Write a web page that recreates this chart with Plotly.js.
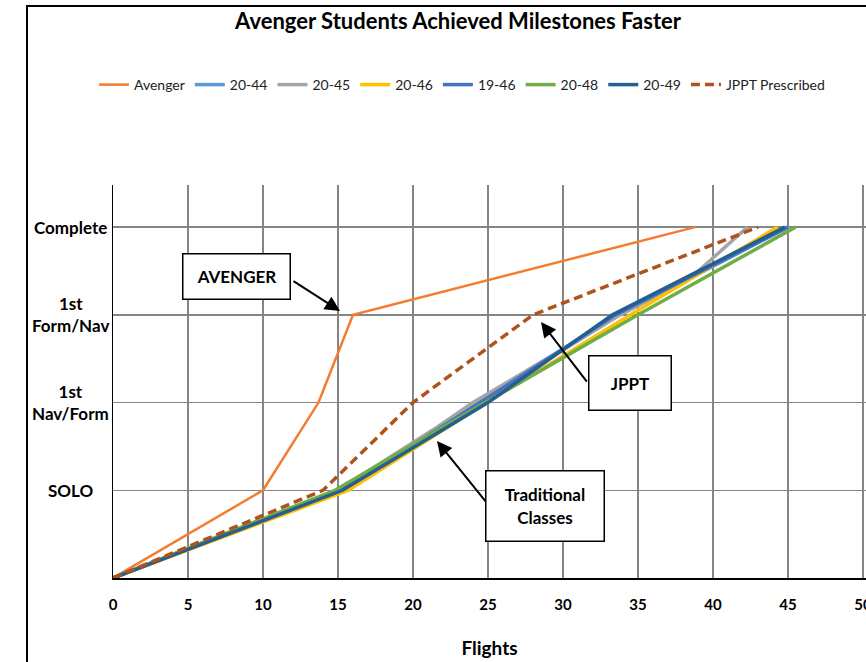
<!DOCTYPE html>
<html>
<head>
<meta charset="utf-8">
<script src="https://cdn.plot.ly/plotly-3.0.1.min.js"></script>
<style>
  html, body { margin: 0; padding: 0; background: #fff; }
  #wrap { position: relative; width: 866px; height: 662px; overflow: hidden; }
  #chart { position: absolute; left: 0; top: 0; width: 866px; height: 662px; }
  #frame { position: absolute; left: 26px; top: 5px; width: 860px; height: 680px;
           border-left: 2px solid #000; border-top: 2px solid #000; pointer-events: none; }
</style>
</head>
<body>
<div id="wrap">
  <div id="chart"></div>
  <div id="frame"></div>
</div>
<script>
// ---- data (flights, milestone index) ----
const milestoneVals = [1, 2, 3, 4];
const milestoneLabels = ['SOLO', '1st<br>Nav/Form', '1st<br>Form/Nav', 'Complete'];
const xTicks = [0, 5, 10, 15, 20, 25, 30, 35, 40, 45, 50];

const seriesNames = ['Avenger', '20-44', '20-45', '20-46', '19-46', '20-48', '20-49', 'JPPT Prescribed'];

const avengerX = [0, 10, 13.7, 16, 38.8];
const avengerY = [0, 1, 2, 3, 4];

const c2044X = [0, 15.1, 24.3, 33.8, 45.0];
const c2044Y = [0, 1, 2, 3, 4];

const c2045X = [0, 15.0, 21.6, 24.0, 33.8, 38.5, 42.3];
const c2045Y = [0, 1, 1.72, 2, 3, 3.42, 4];

const c2046X = [0, 15.7, 24.9, 34.5, 44.3];
const c2046Y = [0, 1, 2, 3, 4];

const c1946X = [0, 15.2, 24.5, 33.5, 45.0];
const c1946Y = [0, 1, 2, 3, 4];

const c2048X = [0, 14.8, 24.8, 35.0, 45.5];
const c2048Y = [0, 1, 2, 3, 4];

const c2049X = [0, 15.3, 25.0, 33.3, 44.8];
const c2049Y = [0, 1, 2, 3, 4];

const jpptX = [0, 14.0, 20.0, 28.0, 43.0];
const jpptY = [0, 1, 2, 3, 4];

const seriesX = [avengerX, c2044X, c2045X, c2046X, c1946X, c2048X, c2049X, jpptX];
const seriesY = [avengerY, c2044Y, c2045Y, c2046Y, c1946Y, c2048Y, c2049Y, jpptY];

// ---- styles ----
const colors = ['#F47B30', '#5B9BD5', '#A5A5A5', '#FFC000', '#4472C4', '#70AD47', '#255E91', '#B0521C'];
const widths = [2.5, 3.5, 3.5, 3.5, 3.5, 3.5, 3.5, 3.5];
const dashes = ['solid', 'solid', 'solid', 'solid', 'solid', 'solid', 'solid', '9px,5px'];

const FONT = 'Lato, "Open Sans", "Liberation Sans", sans-serif';

const traces = seriesNames.map((n, i) => ({
  type: 'scatter', mode: 'lines', name: n,
  x: seriesX[i], y: seriesY[i],
  line: { color: colors[i], width: widths[i], dash: dashes[i] },
  hoverinfo: 'x+y+name'
}));

const PW = 753, PH = 393, L = 113, T = 185;
const px = (v) => (v - L) / PW;
const py = (v) => (T + PH - v) / PH;

const annotations = [];
// y-axis category labels (centered multi-line)
milestoneVals.forEach((v, i) => {
  annotations.push({
    xref: 'paper', yref: 'y', x: px(70), y: v, xanchor: 'center', yanchor: 'middle',
    text: milestoneLabels[i], showarrow: false, align: 'center',
    font: { family: FONT, size: 17, color: '#000', weight: 'bold' }
  });
});

// callout boxes
const boxFont = { family: FONT, size: 17, color: '#000', weight: 'bold' };
annotations.push({
  xref: 'paper', yref: 'paper', x: px(236), y: py(276),
  xanchor: 'center', yanchor: 'middle', text: 'AVENGER', showarrow: false,
  bordercolor: '#000', borderwidth: 1.5, bgcolor: '#fff', borderpad: 0,
  width: 106, height: 44, font: boxFont
});
annotations.push({
  xref: 'paper', yref: 'paper', x: px(630), y: py(383),
  xanchor: 'center', yanchor: 'middle', text: 'JPPT', showarrow: false,
  bordercolor: '#000', borderwidth: 1.5, bgcolor: '#fff', borderpad: 0,
  width: 81, height: 53, font: boxFont
});
annotations.push({
  xref: 'paper', yref: 'paper', x: px(545), y: py(506),
  xanchor: 'center', yanchor: 'middle', text: 'Traditional<br>Classes', showarrow: false,
  bordercolor: '#000', borderwidth: 1.5, bgcolor: '#fff', borderpad: 0,
  width: 117, height: 69, font: boxFont, align: 'center'
});

// arrows (head at data point, tail offset in px)
const arrow = (x, y, ax, ay) => ({
  xref: 'x', yref: 'y', x: x, y: y, ax: ax, ay: ay, axref: 'pixel', ayref: 'pixel',
  text: '', showarrow: true, arrowhead: 2, arrowsize: 1.5, arrowwidth: 2,
  arrowcolor: '#000', standoff: 0, startstandoff: 0
});
annotations.push(arrow((340 - 113) / 15, (578 - 311) / 87.75, 292 - 340, 280 - 311));
annotations.push(arrow((541 - 113) / 15, (578 - 322) / 87.75, 588 - 541, 383 - 322));
annotations.push(arrow((437 - 113) / 15, (578 - 441) / 87.75, 487 - 437, 503 - 441));

const layout = {
  width: 866, height: 662,
  margin: { l: L, r: 0, t: T, b: 84 },
  paper_bgcolor: '#fff', plot_bgcolor: '#fff',
  font: { family: FONT, color: '#000' },
  title: {
    text: 'Avenger Students Achieved Milestones Faster',
    font: { family: FONT, size: 22, color: '#000', weight: 'bold' },
    x: 458 / 866, xanchor: 'center', y: 1 - 21 / 662, yanchor: 'middle'
  },
  showlegend: true,
  legend: {
    orientation: 'h', x: px(462), xanchor: 'center',
    y: py(85), yanchor: 'middle',
    font: { family: FONT, size: 14, color: '#222' },
    bgcolor: 'rgba(0,0,0,0)', tracegroupgap: 0
  },
  xaxis: {
    range: [0, 50.2], tickvals: xTicks, ticktext: xTicks.map(String),
    showgrid: true, gridcolor: '#858585', gridwidth: 1.5,
    showline: true, linecolor: '#000', linewidth: 1.5,
    zeroline: false, ticks: '', ticklabeloverflow: 'allow', ticklabelstandoff: 12,
    tickfont: { family: FONT, size: 15, color: '#000', weight: 'bold' },
    title: { text: 'Flights', font: { family: FONT, size: 19, color: '#000', weight: 'bold' }, standoff: 30 },
    automargin: false
  },
  yaxis: {
    range: [0, 4.48], tickvals: milestoneVals, showticklabels: false,
    showgrid: true, gridcolor: '#858585', gridwidth: 1.5,
    showline: true, linecolor: '#000', linewidth: 1.5,
    zeroline: false, ticks: '', automargin: false
  },
  annotations: annotations
};

Plotly.newPlot('chart', traces, layout, { displayModeBar: false, staticPlot: true });
</script>
</body>
</html>
